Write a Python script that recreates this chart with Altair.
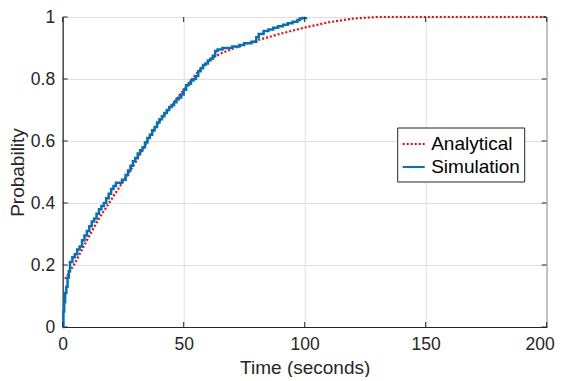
import altair as alt
import pandas as pd

# ---- data ----
ana_t = [1, 5, 10, 15, 20, 25, 30, 35, 40, 45, 50, 55, 60, 62, 65, 70, 75, 80,
         90, 100, 110, 120, 130, 140, 160, 180, 200]
ana_p = [0.155, 0.205, 0.28, 0.35, 0.41, 0.47, 0.53, 0.60, 0.665, 0.715, 0.765,
         0.815, 0.856, 0.868, 0.881, 0.897, 0.912, 0.924, 0.946, 0.966, 0.983,
         0.995, 1.0, 1.0, 1.0, 1.0, 1.0]

sim_t = [0, 0.3, 0.6, 1.0, 1.5, 2.0, 2.5, 3.0, 4.0, 5.0, 6.0, 7.0, 8.0, 9.0, 10,
         11, 12, 13, 14, 15, 16, 17, 18, 19, 20, 21, 22, 24.5, 26, 27, 28, 29,
         30, 31, 32, 33, 34, 35, 36, 37, 38, 39, 40, 41, 42, 43, 44, 45, 46, 47,
         48, 49, 50, 51, 52, 53, 54, 55, 56, 57, 58, 59, 60, 61, 62, 63, 64, 66,
         70, 73, 75, 78, 80, 81, 83, 85, 87, 89, 91, 93, 95, 97, 98, 99, 100.5]
sim_p = [0.0, 0.05, 0.08, 0.11, 0.13, 0.16, 0.18, 0.21, 0.225, 0.235, 0.25,
         0.26, 0.28, 0.295, 0.31, 0.325, 0.34, 0.35, 0.365, 0.38, 0.39, 0.40,
         0.415, 0.43, 0.445, 0.455, 0.465, 0.475, 0.49, 0.505, 0.52, 0.535,
         0.545, 0.56, 0.57, 0.58, 0.595, 0.61, 0.62, 0.635, 0.645, 0.66, 0.67,
         0.68, 0.69, 0.70, 0.71, 0.715, 0.725, 0.735, 0.74, 0.75, 0.765, 0.78,
         0.785, 0.795, 0.80, 0.81, 0.825, 0.835, 0.845, 0.85, 0.86, 0.865,
         0.875, 0.89, 0.895, 0.90, 0.905, 0.91, 0.915, 0.92, 0.935, 0.945,
         0.955, 0.96, 0.965, 0.97, 0.975, 0.98, 0.985, 0.99, 0.995, 0.997, 1.0]

x_ticks = [0, 50, 100, 150, 200]
y_ticks = [0, 0.2, 0.4, 0.6, 0.8, 1]
series_names = ["Analytical", "Simulation"]
series_colors = ["#ff0000", "#0072bd"]

FONT = "Liberation Sans"
AX = "#262626"
W, H = 484, 310

ana_df = pd.DataFrame({"t": ana_t, "p": ana_p, "series": "Analytical"})
sim_df = pd.DataFrame({"t": sim_t, "p": sim_p, "series": "Simulation"})
xt_df = pd.DataFrame({"t": x_ticks})
yt_df = pd.DataFrame({"p": y_ticks})

xscale = alt.Scale(domain=[0, 200], nice=False, zero=False)
yscale = alt.Scale(domain=[0, 1], nice=False, zero=False)

x_axis = alt.Axis(values=x_ticks, title="Time (seconds)", grid=True,
                  ticks=False, labelPadding=8, format="~f", labelFlush=False,
                  labelOffset={"condition": {"test": "datum.value == 200",
                                             "value": -7}, "value": 0},
                  titleY=46, titleBaseline="alphabetic")
y_axis = alt.Axis(values=y_ticks, title="Probability", grid=True,
                  ticks=False, labelPadding=8, format="~f", labelFlush=False,
                  titleX=-39, titleY=H / 2, titleAngle=270,
                  titleBaseline="alphabetic")
x_enc = alt.X("t:Q", scale=xscale, axis=x_axis)
y_enc = alt.Y("p:Q", scale=yscale, axis=y_axis)

leg = alt.Legend(title=None, orient="none", legendX=334.5, legendY=110.5)
color_enc = alt.Color("series:N",
                      scale=alt.Scale(domain=series_names, range=series_colors),
                      legend=leg)
dash_enc = alt.StrokeDash("series:N",
                          scale=alt.Scale(domain=series_names,
                                          range=[[2, 2], [1, 0]]),
                          legend=leg)

ana = alt.Chart(ana_df).mark_line(strokeWidth=2.2, strokeCap="butt").encode(
    x=x_enc, y=y_enc, color=color_enc, strokeDash=dash_enc)
sim = alt.Chart(sim_df).mark_line(strokeWidth=2.5, interpolate="step-after").encode(
    x=x_enc, y=y_enc, color=color_enc, strokeDash=dash_enc)

tick_x_bottom = alt.Chart(xt_df).mark_rule(color=AX, strokeWidth=1).encode(
    x=x_enc, y=alt.value(H), y2=alt.value(H - 5))
tick_x_top = alt.Chart(xt_df).mark_rule(color=AX, strokeWidth=1).encode(
    x=x_enc, y=alt.value(0), y2=alt.value(5))
tick_y_left = alt.Chart(yt_df).mark_rule(color=AX, strokeWidth=1).encode(
    y=y_enc, x=alt.value(0), x2=alt.value(5))
tick_y_right = alt.Chart(yt_df).mark_rule(color=AX, strokeWidth=1).encode(
    y=y_enc, x=alt.value(W), x2=alt.value(W - 5))

chart = alt.layer(ana, sim, tick_x_bottom, tick_x_top, tick_y_left, tick_y_right).properties(
    width=W, height=H,
    autosize=alt.AutoSizeParams(type="none"),
    padding={"left": 54.7, "top": 9, "right": 8.3, "bottom": 50},
).configure_view(
    stroke=AX, strokeWidth=1
).configure_axis(
    domainColor=AX, domainWidth=1, gridColor="#e0e0e0", gridWidth=1,
    labelFont=FONT, labelFontSize=17.5, labelColor=AX,
    titleFont=FONT, titleFontSize=19, titleColor=AX, titleFontWeight="normal",
).configure_legend(
    strokeColor=AX, fillColor="white", padding=4,
    labelFont=FONT, labelFontSize=19, labelColor="black",
    symbolType="stroke", symbolSize=484, symbolStrokeWidth=2.2,
    labelOffset=5, rowPadding=0,
)

chart.save("out.html", embed_options={"renderer": "svg", "actions": False})
